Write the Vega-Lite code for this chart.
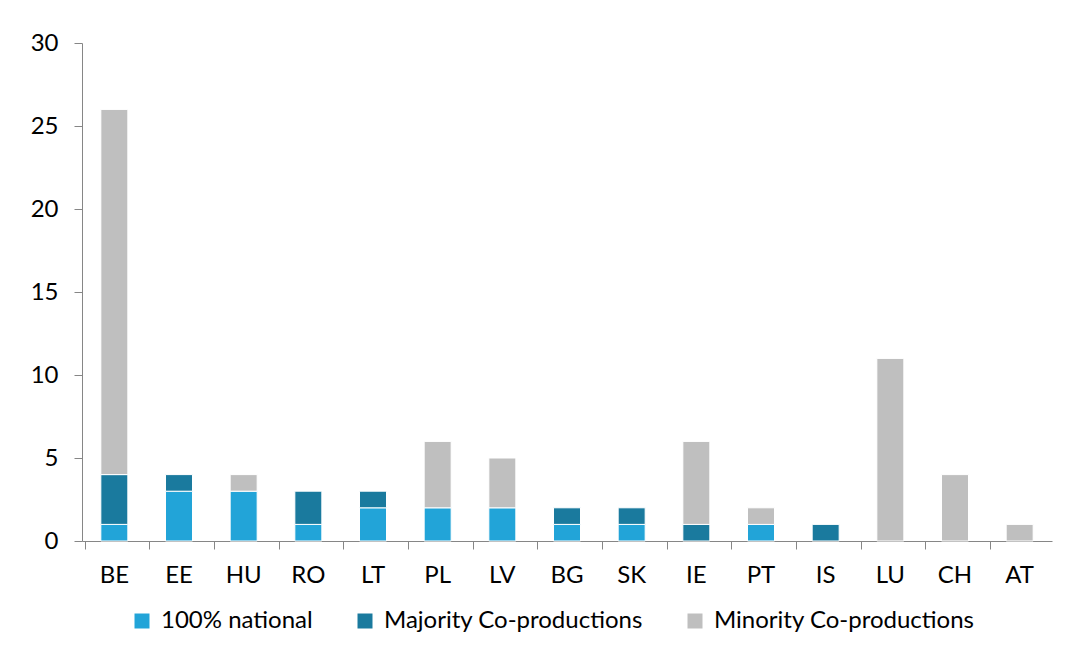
{
  "$schema": "https://vega.github.io/schema/vega-lite/v6.json",
  "width": 970,
  "height": 498,
  "autosize": "none",
  "padding": {"left": 82, "top": 43, "right": 26, "bottom": 109},
  "background": "white",
  "data": {
    "values": [
      {"country": "BE", "type": "100% national", "o": 1, "value": 1},
      {"country": "BE", "type": "Majority Co-productions", "o": 2, "value": 3},
      {"country": "BE", "type": "Minority Co-productions", "o": 3, "value": 22},
      {"country": "EE", "type": "100% national", "o": 1, "value": 3},
      {"country": "EE", "type": "Majority Co-productions", "o": 2, "value": 1},
      {"country": "HU", "type": "100% national", "o": 1, "value": 3},
      {"country": "HU", "type": "Minority Co-productions", "o": 3, "value": 1},
      {"country": "RO", "type": "100% national", "o": 1, "value": 1},
      {"country": "RO", "type": "Majority Co-productions", "o": 2, "value": 2},
      {"country": "LT", "type": "100% national", "o": 1, "value": 2},
      {"country": "LT", "type": "Majority Co-productions", "o": 2, "value": 1},
      {"country": "PL", "type": "100% national", "o": 1, "value": 2},
      {"country": "PL", "type": "Minority Co-productions", "o": 3, "value": 4},
      {"country": "LV", "type": "100% national", "o": 1, "value": 2},
      {"country": "LV", "type": "Minority Co-productions", "o": 3, "value": 3},
      {"country": "BG", "type": "100% national", "o": 1, "value": 1},
      {"country": "BG", "type": "Majority Co-productions", "o": 2, "value": 1},
      {"country": "SK", "type": "100% national", "o": 1, "value": 1},
      {"country": "SK", "type": "Majority Co-productions", "o": 2, "value": 1},
      {"country": "IE", "type": "Majority Co-productions", "o": 2, "value": 1},
      {"country": "IE", "type": "Minority Co-productions", "o": 3, "value": 5},
      {"country": "PT", "type": "100% national", "o": 1, "value": 1},
      {"country": "PT", "type": "Minority Co-productions", "o": 3, "value": 1},
      {"country": "IS", "type": "Majority Co-productions", "o": 2, "value": 1},
      {"country": "LU", "type": "Minority Co-productions", "o": 3, "value": 11},
      {"country": "CH", "type": "Minority Co-productions", "o": 3, "value": 4},
      {"country": "AT", "type": "Minority Co-productions", "o": 3, "value": 1}
    ]
  },
  "mark": {"type": "bar", "stroke": "white", "strokeWidth": 1, "size": 27},
  "encoding": {
    "x": {
      "field": "country",
      "type": "nominal",
      "sort": ["BE", "EE", "HU", "RO", "LT", "PL", "LV", "BG", "SK", "IE", "PT", "IS", "LU", "CH", "AT"],
      "title": null,
      "axis": {
        "labelAngle": 0,
        "bandPosition": 0,
        "tickSize": 8,
        "labelPadding": 14,
        "domainColor": "#868686",
        "tickColor": "#868686",
        "labelFont": "Lato",
        "labelFontSize": 24,
        "labelColor": "black",
        "grid": false
      }
    },
    "y": {
      "field": "value",
      "type": "quantitative",
      "aggregate": "sum",
      "stack": "zero",
      "scale": {"domain": [0, 30]},
      "title": null,
      "axis": {
        "values": [0, 5, 10, 15, 20, 25, 30],
        "tickSize": 8,
        "labelPadding": 16,
        "domainColor": "#868686",
        "tickColor": "#868686",
        "labelFont": "Lato",
        "labelFontSize": 24,
        "labelColor": "black",
        "grid": false
      }
    },
    "color": {
      "field": "type",
      "type": "nominal",
      "scale": {
        "domain": ["100% national", "Majority Co-productions", "Minority Co-productions"],
        "range": ["#22A4D8", "#1A7A9E", "#BFBFBF"]
      },
      "legend": {
        "title": null,
        "orient": "none",
        "direction": "horizontal",
        "legendX": 48,
        "legendY": 566,
        "symbolType": "square",
        "symbolSize": 225,
        "symbolStrokeWidth": 0,
        "labelFont": "Lato",
        "labelFontSize": 24,
        "labelColor": "black",
        "labelOffset": 7,
        "columnPadding": 40,
        "labelLimit": 400
      }
    },
    "order": {"field": "o", "type": "quantitative"}
  },
  "config": {"view": {"stroke": null}}
}
